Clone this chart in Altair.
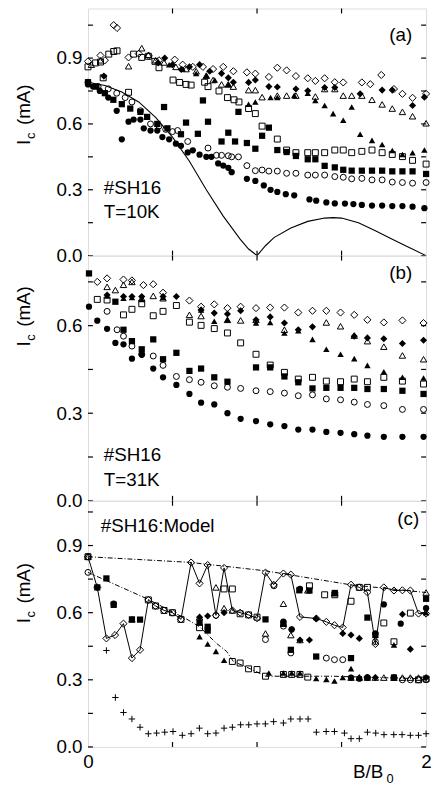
import altair as alt
import pandas as pd

FONT = "Liberation Sans"
FS = 19

# ---------------- shared axis data ----------------
X_LABELS = [0, 1, 2]
X_INNER_TICKS = [0.5, 1.0, 1.5]

# ---------------- panel (a)  T = 10 K ----------------
A_Y_MAJOR = [0.0, 0.3, 0.6, 0.9]
A_Y_MINOR = [0.15, 0.45, 0.75, 1.05]

A_LINE_X = [0, 0.1, 0.2, 0.3, 0.4, 0.5, 0.6, 0.7, 0.8, 0.9, 0.95, 1.0, 1.05, 1.1, 1.2, 1.3, 1.4, 1.45, 1.5, 1.6, 1.7, 1.8, 1.9, 2.0]
A_LINE_Y = [0.79, 0.775, 0.745, 0.70, 0.63, 0.54, 0.43, 0.30, 0.18, 0.075, 0.03, 0.0, 0.045, 0.082, 0.126, 0.156, 0.171, 0.173, 0.171, 0.15, 0.113, 0.075, 0.037, 0.0]

A_FC_X = [0.0, 0.03, 0.07, 0.12, 0.17, 0.20, 0.24, 0.27, 0.31, 0.33, 0.37, 0.41, 0.44, 0.48, 0.52, 0.55, 0.59, 0.62, 0.66, 0.70, 0.73, 0.77, 0.80, 0.83, 0.85, 0.94, 0.99, 1.04, 1.08, 1.12, 1.17, 1.22, 1.31, 1.35, 1.41, 1.46, 1.52, 1.57, 1.62, 1.68, 1.74, 1.80, 1.86, 1.92, 1.99]
A_FC_Y = [0.78, 0.77, 0.75, 0.72, 0.66, 0.53, 0.61, 0.62, 0.62, 0.58, 0.57, 0.57, 0.54, 0.53, 0.51, 0.50, 0.47, 0.48, 0.46, 0.45, 0.45, 0.42, 0.41, 0.40, 0.38, 0.35, 0.34, 0.32, 0.30, 0.29, 0.28, 0.275, 0.256, 0.25, 0.242, 0.238, 0.237, 0.235, 0.231, 0.228, 0.228, 0.226, 0.226, 0.223, 0.216]

A_OC_X = [0.0, 0.06, 0.12, 0.17, 0.22, 0.26, 0.31, 0.37, 0.42, 0.46, 0.50, 0.53, 0.59, 0.71, 0.76, 0.79, 0.83, 0.85, 0.89, 0.94, 0.99, 1.03, 1.07, 1.12, 1.175, 1.23, 1.30, 1.345, 1.40, 1.46, 1.51, 1.56, 1.62, 1.68, 1.74, 1.80, 1.86, 1.92, 2.0]
A_OC_Y = [0.79, 0.77, 0.76, 0.74, 0.72, 0.70, 0.66, 0.60, 0.59, 0.575, 0.565, 0.57, 0.52, 0.49, 0.457, 0.457, 0.455, 0.45, 0.45, 0.41, 0.387, 0.39, 0.385, 0.385, 0.375, 0.375, 0.367, 0.367, 0.367, 0.36, 0.357, 0.35, 0.352, 0.345, 0.345, 0.335, 0.333, 0.33, 0.333]

A_FS_X = [0.0, 0.05, 0.10, 0.15, 0.20, 0.25, 0.31, 0.35, 0.41, 0.45, 0.47, 0.55, 0.58, 0.65, 0.68, 0.71, 0.79, 0.83, 0.87, 0.89, 0.94, 0.99, 1.03, 1.07, 1.12, 1.175, 1.23, 1.30, 1.345, 1.40, 1.46, 1.51, 1.56, 1.62, 1.68, 1.74, 1.80, 1.86, 1.92, 2.0]
A_FS_Y = [0.79, 0.77, 0.74, 0.71, 0.69, 0.67, 0.655, 0.632, 0.60, 0.677, 0.58, 0.553, 0.606, 0.555, 0.707, 0.61, 0.52, 0.56, 0.52, 0.655, 0.513, 0.487, 0.546, 0.583, 0.481, 0.472, 0.454, 0.439, 0.439, 0.409, 0.402, 0.391, 0.387, 0.387, 0.387, 0.387, 0.384, 0.384, 0.384, 0.372]

A_OS_X = [0.0, 0.045, 0.074, 0.09, 0.123, 0.152, 0.172, 0.24, 0.27, 0.318, 0.357, 0.396, 0.42, 0.503, 0.542, 0.58, 0.61, 0.69, 0.71, 0.775, 0.825, 0.864, 0.893, 0.95, 0.99, 1.03, 1.12, 1.175, 1.23, 1.30, 1.345, 1.40, 1.46, 1.51, 1.56, 1.62, 1.68, 1.74, 1.80, 1.86, 1.92, 2.0]
A_OS_Y = [0.86, 0.878, 0.882, 0.81, 0.918, 0.93, 0.933, 0.744, 0.918, 0.903, 0.908, 0.885, 0.856, 0.80, 0.789, 0.78, 0.777, 0.79, 0.77, 0.75, 0.72, 0.71, 0.70, 0.67, 0.647, 0.59, 0.531, 0.481, 0.469, 0.469, 0.469, 0.469, 0.481, 0.481, 0.469, 0.475, 0.481, 0.469, 0.461, 0.451, 0.434, 0.417]

A_OT_X = [0.02, 0.074, 0.24, 0.318, 0.357, 0.40, 0.45, 0.52, 0.58, 0.64, 0.70, 0.74, 0.79, 0.83, 0.86, 0.95, 0.99, 1.03, 1.12, 1.175, 1.23, 1.345, 1.40, 1.46, 1.51, 1.56, 1.62, 1.68, 1.74, 1.80, 1.86, 1.92, 2.0]
A_OT_Y = [0.87, 0.89, 0.863, 0.945, 0.915, 0.89, 0.88, 0.86, 0.85, 0.84, 0.82, 0.80, 0.78, 0.78, 0.77, 0.754, 0.754, 0.722, 0.729, 0.729, 0.729, 0.725, 0.759, 0.759, 0.729, 0.729, 0.729, 0.71, 0.689, 0.67, 0.655, 0.635, 0.603]

A_FT_X = [0.48, 0.56, 0.64, 0.70, 0.75, 0.83, 0.95, 0.99, 1.08, 1.12, 1.22, 1.30, 1.345, 1.40, 1.45, 1.51, 1.56, 1.61, 1.68, 1.74, 1.80, 1.86, 1.92, 1.99]
A_FT_Y = [0.87, 0.85, 0.83, 0.82, 0.80, 0.78, 0.69, 0.70, 0.72, 0.72, 0.73, 0.74, 0.707, 0.684, 0.647, 0.617, 0.677, 0.553, 0.525, 0.506, 0.479, 0.461, 0.469, 0.481]

A_FD_X = [0.094, 0.415, 0.454, 0.50, 0.552, 0.60, 0.66, 0.72, 0.79, 0.83, 0.86, 0.95, 0.99, 1.07, 1.12, 1.23, 1.30, 1.40, 1.46, 1.61, 1.74, 1.80, 1.92, 1.99]
A_FD_Y = [0.818, 0.878, 0.90, 0.87, 0.848, 0.86, 0.87, 0.84, 0.83, 0.81, 0.79, 0.789, 0.80, 0.77, 0.768, 0.759, 0.751, 0.766, 0.766, 0.737, 0.754, 0.754, 0.684, 0.722]

A_OD_X = [0.0, 0.074, 0.10, 0.152, 0.172, 0.24, 0.30, 0.36, 0.42, 0.513, 0.56, 0.62, 0.68, 0.74, 0.80, 0.86, 0.94, 0.99, 1.07, 1.12, 1.175, 1.23, 1.30, 1.345, 1.40, 1.46, 1.51, 1.62, 1.67, 1.735, 1.81, 1.86, 1.92, 2.0]
A_OD_Y = [0.885, 0.912, 0.89, 1.05, 1.037, 0.903, 0.92, 0.91, 0.89, 0.893, 0.87, 0.86, 0.86, 0.85, 0.86, 0.84, 0.835, 0.829, 0.814, 0.856, 0.844, 0.818, 0.808, 0.796, 0.808, 0.79, 0.789, 0.789, 0.781, 0.823, 0.759, 0.737, 0.719, 0.737]

# ---------------- panel (b)  T = 31 K ----------------
B_Y_MAJOR = [0.0, 0.3, 0.6]
B_Y_MINOR = [0.15, 0.45, 0.75]

B_OD_X = [0.055, 0.113, 0.21, 0.26, 0.328, 0.386, 0.444, 0.60, 0.669, 0.747, 0.825, 0.903, 0.994, 1.078, 1.162, 1.244, 1.328, 1.41, 1.494, 1.575, 1.653, 1.75, 1.86, 1.985]
B_OD_Y = [0.75, 0.762, 0.758, 0.755, 0.739, 0.742, 0.713, 0.686, 0.665, 0.673, 0.66, 0.665, 0.66, 0.662, 0.662, 0.645, 0.651, 0.651, 0.645, 0.637, 0.62, 0.611, 0.618, 0.609]

B_OC_X = [0.113, 0.172, 0.21, 0.26, 0.318, 0.386, 0.444, 0.523, 0.60, 0.669, 0.747, 0.825, 0.903, 0.994, 1.078, 1.162, 1.244, 1.328, 1.41, 1.494, 1.575, 1.653, 1.75, 1.86, 1.985]
B_OC_Y = [0.649, 0.586, 0.564, 0.53, 0.502, 0.496, 0.464, 0.426, 0.415, 0.406, 0.394, 0.389, 0.385, 0.377, 0.374, 0.369, 0.36, 0.363, 0.349, 0.346, 0.338, 0.33, 0.326, 0.313, 0.313]

B_FC_X = [0.006, 0.055, 0.113, 0.162, 0.21, 0.26, 0.318, 0.386, 0.444, 0.523, 0.60, 0.669, 0.747, 0.825, 0.903, 0.994, 1.078, 1.162, 1.244, 1.328, 1.41, 1.494, 1.575, 1.653, 1.75, 1.86, 1.985]
B_FC_Y = [0.665, 0.617, 0.589, 0.541, 0.536, 0.487, 0.50, 0.453, 0.423, 0.397, 0.366, 0.336, 0.33, 0.30, 0.281, 0.273, 0.262, 0.256, 0.244, 0.244, 0.236, 0.233, 0.228, 0.223, 0.219, 0.219, 0.219]

B_FS_X = [0.006, 0.162, 0.21, 0.26, 0.318, 0.386, 0.444, 0.523, 0.60, 0.669, 0.747, 0.825, 0.994, 1.078, 1.162, 1.244, 1.328, 1.41, 1.494, 1.575, 1.653, 1.75, 1.86, 1.985]
B_FS_Y = [0.779, 0.682, 0.586, 0.547, 0.519, 0.553, 0.485, 0.507, 0.445, 0.453, 0.423, 0.408, 0.457, 0.457, 0.426, 0.406, 0.385, 0.387, 0.387, 0.387, 0.383, 0.383, 0.377, 0.366]

B_OS_X = [0.055, 0.113, 0.21, 0.26, 0.318, 0.386, 0.444, 0.523, 0.60, 0.669, 0.747, 0.825, 0.903, 0.994, 1.078, 1.162, 1.244, 1.328, 1.41, 1.494, 1.575, 1.653, 1.75, 1.86, 1.985]
B_OS_Y = [0.69, 0.688, 0.637, 0.656, 0.675, 0.634, 0.649, 0.669, 0.612, 0.601, 0.59, 0.575, 0.541, 0.502, 0.465, 0.44, 0.417, 0.423, 0.41, 0.408, 0.417, 0.408, 0.423, 0.41, 0.40]

B_OT_X = [0.113, 0.162, 0.21, 0.26, 0.318, 0.386, 0.444, 0.60, 0.669, 0.825, 0.903, 0.994, 1.162, 1.41, 1.494, 1.575, 1.653, 1.75, 1.86, 1.985]
B_OT_Y = [0.733, 0.722, 0.74, 0.75, 0.694, 0.702, 0.694, 0.637, 0.633, 0.62, 0.618, 0.62, 0.586, 0.611, 0.598, 0.566, 0.547, 0.528, 0.498, 0.485]

B_FT_X = [0.113, 0.21, 0.26, 0.318, 0.444, 0.669, 0.747, 0.825, 0.994, 1.078, 1.162, 1.244, 1.328, 1.41, 1.494, 1.575, 1.653, 1.75, 1.86, 1.985]
B_FT_Y = [0.702, 0.694, 0.697, 0.69, 0.697, 0.654, 0.615, 0.62, 0.609, 0.611, 0.575, 0.583, 0.553, 0.519, 0.502, 0.487, 0.464, 0.442, 0.423, 0.421]

B_FD_X = [0.113, 0.21, 0.26, 0.318, 0.444, 0.523, 0.669, 0.747, 0.825, 0.903, 0.994, 1.078, 1.162, 1.244, 1.328, 1.575, 1.653, 1.75, 1.86, 1.985]
B_FD_Y = [0.705, 0.70, 0.70, 0.70, 0.70, 0.70, 0.654, 0.643, 0.64, 0.651, 0.62, 0.63, 0.609, 0.586, 0.596, 0.564, 0.558, 0.555, 0.539, 0.55]

# ---------------- panel (c)  model ----------------
C_Y_MAJOR = [0.0, 0.3, 0.6, 0.9]
C_Y_MINOR = [0.15, 0.45, 0.75, 1.05]

C_UPPER_X = [0.0, 0.6, 1.05, 1.55, 2.0]
C_UPPER_Y = [0.85, 0.825, 0.787, 0.725, 0.69]

C_MIDDLE_X = [0.0, 0.35, 0.5, 0.58, 0.66, 0.76, 0.82, 0.86, 0.97, 1.05, 1.45, 2.0]
C_MIDDLE_Y = [0.78, 0.662, 0.603, 0.573, 0.537, 0.463, 0.427, 0.382, 0.346, 0.316, 0.316, 0.304]

C_OD_X = [0.0, 0.055, 0.109, 0.16, 0.21, 0.26, 0.308, 0.357, 0.40, 0.45, 0.50, 0.55, 0.61, 0.66, 0.708, 0.757, 0.805, 0.854, 0.90, 0.95, 1.0, 1.05, 1.098, 1.156, 1.20, 1.254, 1.351, 1.41, 1.458, 1.507, 1.556, 1.605, 1.653, 1.70, 1.75, 1.81, 1.86, 1.907, 1.955, 2.0]
C_OD_Y = [0.85, 0.713, 0.485, 0.50, 0.551, 0.397, 0.434, 0.657, 0.63, 0.61, 0.60, 0.57, 0.824, 0.731, 0.813, 0.588, 0.80, 0.61, 0.60, 0.59, 0.575, 0.779, 0.725, 0.775, 0.77, 0.581, 0.574, 0.559, 0.544, 0.534, 0.725, 0.713, 0.691, 0.46, 0.713, 0.699, 0.70, 0.699, 0.596, 0.596]

C_OS_X = [0.0, 0.357, 0.40, 0.45, 0.50, 0.55, 0.66, 0.805, 0.854, 0.854, 0.90, 0.90, 0.95, 0.95, 1.0, 1.0, 1.05, 1.156, 1.205, 1.254, 1.30, 1.31, 1.40, 1.46, 1.556, 1.605, 1.653, 1.75, 1.81, 1.907, 1.955, 2.0]
C_OS_Y = [0.85, 0.657, 0.63, 0.61, 0.60, 0.57, 0.533, 0.706, 0.706, 0.382, 0.595, 0.375, 0.59, 0.349, 0.58, 0.346, 0.316, 0.324, 0.324, 0.324, 0.312, 0.72, 0.68, 0.68, 0.651, 0.713, 0.713, 0.554, 0.47, 0.598, 0.30, 0.304]

C_OT_X = [0.0, 0.26, 0.66, 0.757, 0.805, 0.854, 1.05, 1.156, 1.20, 1.254, 1.30, 1.46, 1.556, 1.605, 1.653, 1.70, 1.75, 1.81, 1.86, 1.907, 1.955, 2.0]
C_OT_Y = [0.85, 0.57, 0.58, 0.713, 0.62, 0.61, 0.507, 0.64, 0.50, 0.478, 0.70, 0.687, 0.31, 0.31, 0.31, 0.31, 0.31, 0.31, 0.31, 0.31, 0.31, 0.69]

C_FT_X = [0.66, 0.708, 0.757, 0.805, 1.07, 1.156, 1.205, 1.254, 1.35, 1.35, 1.41, 1.458, 1.507, 1.556, 1.605, 1.81, 2.0]
C_FT_Y = [0.493, 0.46, 0.427, 0.387, 0.33, 0.33, 0.33, 0.33, 0.306, 0.578, 0.302, 0.295, 0.31, 0.35, 0.313, 0.456, 0.60]

C_FS_X = [0.055, 0.109, 0.152, 0.26, 0.308, 0.66, 0.708, 0.708, 1.05, 1.156, 1.20, 1.25, 1.31, 1.35, 1.46, 1.556, 1.653, 1.70, 1.81, 2.0]
C_FS_Y = [0.713, 0.753, 0.635, 0.57, 0.569, 0.555, 0.537, 0.52, 0.57, 0.55, 0.434, 0.70, 0.699, 0.404, 0.688, 0.397, 0.578, 0.50, 0.31, 0.662]

C_FC_X = [0.152, 1.156, 1.205, 1.254, 1.556, 1.605, 1.653, 1.70, 1.75, 1.85, 2.0]
C_FC_Y = [0.64, 0.56, 0.525, 0.706, 0.31, 0.305, 0.31, 0.507, 0.637, 0.551, 0.62]

C_FD_X = [0.66, 0.708, 0.805, 1.205, 1.254, 1.31, 1.35, 1.507, 1.556, 1.605, 1.653, 1.70, 1.86, 1.907, 2.0]
C_FD_Y = [0.58, 0.585, 0.60, 0.525, 0.478, 0.478, 0.573, 0.507, 0.50, 0.485, 0.31, 0.31, 0.593, 0.437, 0.31]

C_OC_X = [0.0, 0.0, 0.757, 1.05, 1.10, 1.156, 1.20, 1.41, 1.458, 1.507, 1.653, 1.70, 1.81, 1.86, 1.907, 1.955, 2.0]
C_OC_Y = [0.78, 0.85, 0.588, 0.48, 0.72, 0.54, 0.42, 0.397, 0.39, 0.39, 0.31, 0.47, 0.31, 0.30, 0.30, 0.30, 0.30]

C_PLUS_X = [0.109, 0.162, 0.21, 0.26, 0.308, 0.357, 0.406, 0.454, 0.503, 0.558, 0.61, 0.659, 0.708, 0.757, 0.805, 0.854, 0.903, 0.951, 1.0, 1.049, 1.098, 1.156, 1.2, 1.254, 1.302, 1.351, 1.409, 1.458, 1.517, 1.556, 1.605, 1.653, 1.702, 1.751, 1.809, 1.858, 1.907, 1.955, 2.0]
C_PLUS_Y = [0.431, 0.221, 0.154, 0.125, 0.088, 0.059, 0.062, 0.066, 0.069, 0.052, 0.059, 0.084, 0.059, 0.062, 0.084, 0.088, 0.099, 0.099, 0.103, 0.103, 0.113, 0.107, 0.125, 0.125, 0.125, 0.066, 0.069, 0.069, 0.062, 0.037, 0.037, 0.066, 0.062, 0.055, 0.055, 0.055, 0.052, 0.052, 0.059]

# ---------------- styling ----------------
W = 342
PLUS_PATH = "M-1,0H1M0,-1V1"
MARK = {
    "od": dict(shape="diamond", filled=False, size=52),
    "fd": dict(shape="diamond", filled=True, size=52),
    "ot": dict(shape="triangle-up", filled=False, size=42),
    "ft": dict(shape="triangle-up", filled=True, size=42),
    "os": dict(shape="square", filled=False, size=36),
    "fs": dict(shape="square", filled=True, size=40),
    "oc": dict(shape="circle", filled=False, size=36),
    "fc": dict(shape="circle", filled=True, size=40),
    "pl": dict(shape=PLUS_PATH, filled=False, size=42),
}

XS = alt.Scale(domain=[0, 2], nice=False, zero=False)


def yaxis_for(values):
    return alt.Axis(values=values, format=".1f", labelFont=FONT, labelFontSize=FS,
                    labelColor="black", ticks=False, domain=False, grid=False,
                    title=None, labelPadding=6)


XAXIS_C = alt.Axis(values=X_LABELS, format="d", labelFont=FONT, labelFontSize=FS,
                   labelColor="black", ticks=False, domain=False, grid=False,
                   title=None, labelPadding=6, labelFlush=False)


class Panel:
    def __init__(self, ydom, h, y_major, y_minor, show_x):
        self.ys = alt.Scale(domain=ydom, nice=False, zero=False)
        self.h = h
        self.y_major = y_major
        self.y_minor = y_minor
        self.yaxis = yaxis_for(y_major)
        self.xaxis = XAXIS_C if show_x else None

    def enc(self, xf="x:Q", yf="y:Q"):
        return dict(x=alt.X(xf, scale=XS, axis=self.xaxis),
                    y=alt.Y(yf, scale=self.ys, axis=self.yaxis))

    def points(self, xs, ys, kind):
        return alt.Chart(pd.DataFrame({"x": xs, "y": ys})).mark_point(
            color="black", strokeWidth=1, opacity=1, **MARK[kind]
        ).encode(**self.enc())

    def line(self, xs, ys, dash=None, width=1.0):
        kw = dict(color="black", strokeWidth=width)
        if dash:
            kw["strokeDash"] = dash
        return alt.Chart(pd.DataFrame({"x": xs, "y": ys})).mark_line(**kw).encode(**self.enc())

    def ticks(self):
        tl = 5
        rule = dict(color="black", strokeWidth=1.2)
        layers = []
        for vals in (self.y_major, self.y_minor):
            d = pd.DataFrame({"y": vals})
            yenc = alt.Y("y:Q", scale=self.ys, axis=self.yaxis)
            layers.append(alt.Chart(d).mark_rule(**rule).encode(
                y=yenc, x=alt.value(0), x2=alt.value(tl)))
            layers.append(alt.Chart(d).mark_rule(**rule).encode(
                y=yenc, x=alt.value(W - tl), x2=alt.value(W)))
        d = pd.DataFrame({"x": X_INNER_TICKS})
        xenc = alt.X("x:Q", scale=XS, axis=self.xaxis)
        layers.append(alt.Chart(d).mark_rule(**rule).encode(
            x=xenc, y=alt.value(0), y2=alt.value(tl)))
        layers.append(alt.Chart(d).mark_rule(**rule).encode(
            x=xenc, y=alt.value(self.h - tl), y2=alt.value(self.h)))
        return layers


def text(label, px, py, size=FS, align="left", angle=None):
    kw = dict(font=FONT, fontSize=size, color="black", align=align, baseline="alphabetic")
    if angle is not None:
        kw["angle"] = angle
    return alt.Chart(pd.DataFrame({"t": [label]})).mark_text(**kw).encode(
        text="t:N", x=alt.value(px), y=alt.value(py)
    )


def ytitle(i_base):
    bx = -59
    return [
        text("I", bx, i_base, angle=270),
        text("c", bx + 5, i_base - 6, size=13, angle=270),
        text("(mA)", bx, i_base - 20, angle=270),
    ]


# ---------------- panel (a) ----------------
PA = Panel([0, 1.126], 250, A_Y_MAJOR, A_Y_MINOR, False)
panel_a = alt.layer(
    *PA.ticks(),
    PA.line(A_LINE_X, A_LINE_Y, width=1.1),
    PA.points(A_FC_X, A_FC_Y, "fc"),
    PA.points(A_OC_X, A_OC_Y, "oc"),
    PA.points(A_FS_X, A_FS_Y, "fs"),
    PA.points(A_OS_X, A_OS_Y, "os"),
    PA.points(A_FT_X, A_FT_Y, "ft"),
    PA.points(A_OT_X, A_OT_Y, "ot"),
    PA.points(A_FD_X, A_FD_Y, "fd"),
    PA.points(A_OD_X, A_OD_Y, "od"),
    text("(a)", 328, 33, align="right"),
    text("#SH16", 16, 188),
    text("T=10K", 16, 212),
    *ytitle(138),
).properties(width=W, height=PA.h)

# ---------------- panel (b) ----------------
PB = Panel([0, 0.84], 248, B_Y_MAJOR, B_Y_MINOR, False)
panel_b = alt.layer(
    *PB.ticks(),
    PB.points(B_FC_X, B_FC_Y, "fc"),
    PB.points(B_OC_X, B_OC_Y, "oc"),
    PB.points(B_FS_X, B_FS_Y, "fs"),
    PB.points(B_OS_X, B_OS_Y, "os"),
    PB.points(B_FT_X, B_FT_Y, "ft"),
    PB.points(B_OT_X, B_OT_Y, "ot"),
    PB.points(B_FD_X, B_FD_Y, "fd"),
    PB.points(B_OD_X, B_OD_Y, "od"),
    text("(b)", 328, 24, align="right"),
    text("#SH16", 16, 208),
    text("T=31K", 16, 233),
    *ytitle(92),
).properties(width=W, height=PB.h)

# ---------------- panel (c) ----------------
PC = Panel([0, 1.1], 249, C_Y_MAJOR, C_Y_MINOR, True)
panel_c = alt.layer(
    *PC.ticks(),
    PC.line(C_UPPER_X, C_UPPER_Y, dash=[5, 2, 1, 2]),
    PC.line(C_MIDDLE_X, C_MIDDLE_Y, dash=[5, 2, 1, 2]),
    PC.line(C_OD_X, C_OD_Y),
    PC.points(C_PLUS_X, C_PLUS_Y, "pl"),
    PC.points(C_FC_X, C_FC_Y, "fc"),
    PC.points(C_OC_X, C_OC_Y, "oc"),
    PC.points(C_FS_X, C_FS_Y, "fs"),
    PC.points(C_OS_X, C_OS_Y, "os"),
    PC.points(C_FT_X, C_FT_Y, "ft"),
    PC.points(C_OT_X, C_OT_Y, "ot"),
    PC.points(C_FD_X, C_FD_Y, "fd"),
    PC.points(C_OD_X, C_OD_Y, "od"),
    text("(c)", 335, 24, align="right"),
    text("#SH16:Model", 13, 32),
    text("B/B", 268, 280),
    text("0", 302, 285, size=13),
    *ytitle(124),
).properties(width=W, height=PC.h)

chart = alt.vconcat(panel_a, panel_b, panel_c, spacing=0, bounds="flush").properties(
    padding={"left": 14, "top": 2, "right": 0, "bottom": 0}
).configure_view(
    stroke="black", strokeWidth=1.3
).configure(background="white")

chart.save("out.html", embed_options={"renderer": "svg", "actions": False})
